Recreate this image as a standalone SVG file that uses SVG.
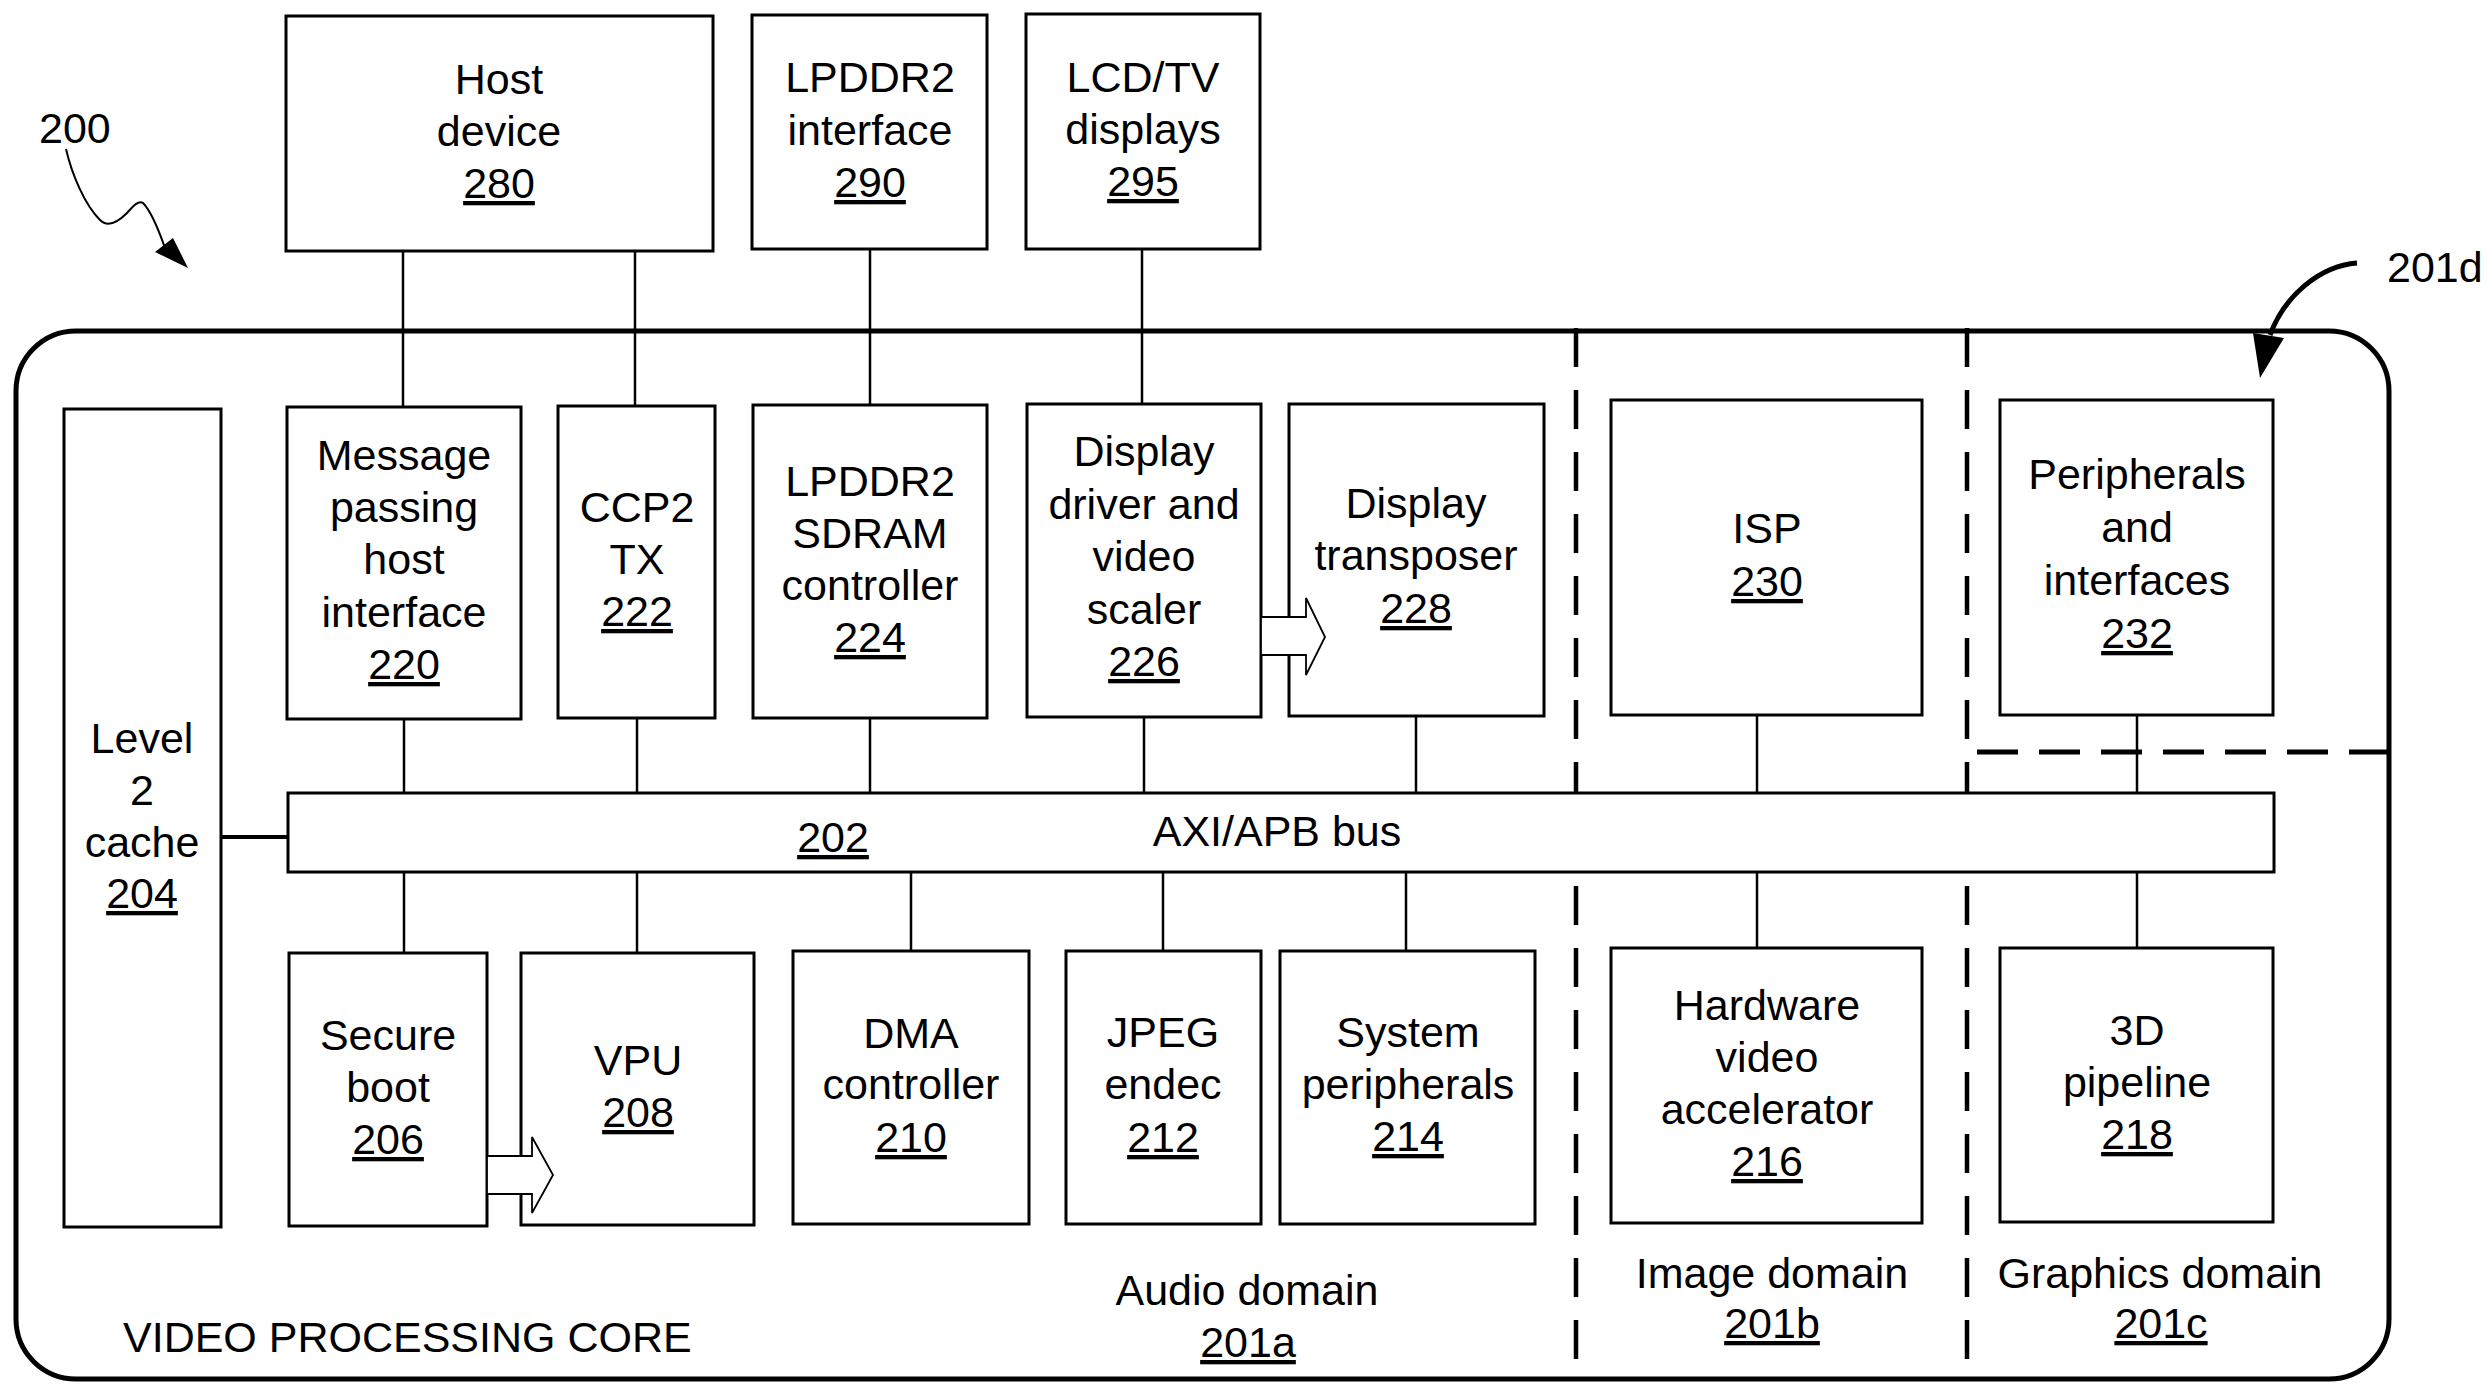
<svg xmlns="http://www.w3.org/2000/svg" width="2492" height="1400" viewBox="0 0 2492 1400">
<style>
.box{fill:#fff;stroke:#000;stroke-width:3}
.ln{stroke:#000;stroke-width:2.5;fill:none}
.dash{stroke:#000;stroke-width:4.5;fill:none;stroke-dasharray:39 23}
.blk{fill:#fff;stroke:#000;stroke-width:1.8}
text{font-family:'Liberation Sans',Arial,sans-serif;font-size:43px;text-anchor:middle;fill:#000}
.u{text-decoration:underline}
.st{text-anchor:start}
</style>
<rect width="2492" height="1400" fill="#fff"/>
<g id="core">
<rect x="16" y="331" width="2373" height="1048" rx="60" ry="60" fill="none" stroke="#000" stroke-width="5"/>
<text class="st" x="123" y="1352">VIDEO PROCESSING CORE</text>
</g>
<g id="domains">
<line class="dash" x1="1576" y1="328" x2="1576" y2="1362"/>
<line class="dash" x1="1967" y1="328" x2="1967" y2="1362"/>
<line x1="1977" y1="752" x2="2389" y2="752" stroke="#000" stroke-width="5" stroke-dasharray="41 21"/>
<text x="1247" y="1305">Audio domain</text>
<text class="u" x="1248" y="1357">201a</text>
<text x="1772" y="1288">Image domain</text>
<text class="u" x="1772" y="1338">201b</text>
<text x="2160" y="1288">Graphics domain</text>
<text class="u" x="2161" y="1338">201c</text>
</g>
<g id="connectors">
<line class="ln" x1="403" y1="251" x2="403" y2="407"/>
<line class="ln" x1="635" y1="251" x2="635" y2="406"/>
<line class="ln" x1="870" y1="249" x2="870" y2="405"/>
<line class="ln" x1="1142" y1="249" x2="1142" y2="404"/>
<line class="ln" x1="404" y1="719" x2="404" y2="793"/>
<line class="ln" x1="637" y1="718" x2="637" y2="793"/>
<line class="ln" x1="870" y1="718" x2="870" y2="793"/>
<line class="ln" x1="1144" y1="717" x2="1144" y2="793"/>
<line class="ln" x1="1416" y1="716" x2="1416" y2="793"/>
<line class="ln" x1="1757" y1="715" x2="1757" y2="793"/>
<line class="ln" x1="2137" y1="715" x2="2137" y2="793"/>
<line class="ln" x1="404" y1="872" x2="404" y2="953"/>
<line class="ln" x1="637" y1="872" x2="637" y2="953"/>
<line class="ln" x1="911" y1="872" x2="911" y2="951"/>
<line class="ln" x1="1163" y1="872" x2="1163" y2="951"/>
<line class="ln" x1="1406" y1="872" x2="1406" y2="951"/>
<line class="ln" x1="1757" y1="872" x2="1757" y2="948"/>
<line class="ln" x1="2137" y1="872" x2="2137" y2="948"/>
<line x1="221" y1="837" x2="288" y2="837" stroke="#000" stroke-width="4"/>
</g>
<g id="n280"><rect class="box" x="286" y="16" width="427" height="235"/><text x="499" y="94">Host</text><text x="499" y="146">device</text><text class="u" x="499" y="198">280</text></g>
<g id="n290"><rect class="box" x="752" y="15" width="235" height="234"/><text x="870" y="92">LPDDR2</text><text x="870" y="145">interface</text><text class="u" x="870" y="197">290</text></g>
<g id="n295"><rect class="box" x="1026" y="14" width="234" height="235"/><text x="1143" y="92">LCD/TV</text><text x="1143" y="144">displays</text><text class="u" x="1143" y="196">295</text></g>
<g id="n204"><rect class="box" x="64" y="409" width="157" height="818"/><text x="142" y="753">Level</text><text x="142" y="805">2</text><text x="142" y="857">cache</text><text class="u" x="142" y="908">204</text></g>
<g id="n220"><rect class="box" x="287" y="407" width="234" height="312"/><text x="404" y="470">Message</text><text x="404" y="522">passing</text><text x="404" y="574">host</text><text x="404" y="627">interface</text><text class="u" x="404" y="679">220</text></g>
<g id="n222"><rect class="box" x="558" y="406" width="157" height="312"/><text x="637" y="522">CCP2</text><text x="637" y="574">TX</text><text class="u" x="637" y="626">222</text></g>
<g id="n224"><rect class="box" x="753" y="405" width="234" height="313"/><text x="870" y="496">LPDDR2</text><text x="870" y="548">SDRAM</text><text x="870" y="600">controller</text><text class="u" x="870" y="652">224</text></g>
<g id="n226"><rect class="box" x="1027" y="404" width="234" height="313"/><text x="1144" y="466">Display</text><text x="1144" y="519">driver and</text><text x="1144" y="571">video</text><text x="1144" y="624">scaler</text><text class="u" x="1144" y="676">226</text></g>
<g id="n228"><rect class="box" x="1289" y="404" width="255" height="312"/><text x="1416" y="518">Display</text><text x="1416" y="570">transposer</text><text class="u" x="1416" y="623">228</text></g>
<g id="n230"><rect class="box" x="1611" y="400" width="311" height="315"/><text x="1767" y="543">ISP</text><text class="u" x="1767" y="596">230</text></g>
<g id="n232"><rect class="box" x="2000" y="400" width="273" height="315"/><text x="2137" y="489">Peripherals</text><text x="2137" y="542">and</text><text x="2137" y="595">interfaces</text><text class="u" x="2137" y="648">232</text></g>
<g id="n202"><rect class="box" x="288" y="793" width="1986" height="79"/><text class="u" x="833" y="852">202</text><text x="1277" y="846">AXI/APB bus</text></g>
<g id="n206"><rect class="box" x="289" y="953" width="198" height="273"/><text x="388" y="1050">Secure</text><text x="388" y="1102">boot</text><text class="u" x="388" y="1154">206</text></g>
<g id="n208"><rect class="box" x="521" y="953" width="233" height="272"/><text x="638" y="1075">VPU</text><text class="u" x="638" y="1127">208</text></g>
<g id="n210"><rect class="box" x="793" y="951" width="236" height="273"/><text x="911" y="1048">DMA</text><text x="911" y="1099">controller</text><text class="u" x="911" y="1152">210</text></g>
<g id="n212"><rect class="box" x="1066" y="951" width="195" height="273"/><text x="1163" y="1047">JPEG</text><text x="1163" y="1099">endec</text><text class="u" x="1163" y="1152">212</text></g>
<g id="n214"><rect class="box" x="1280" y="951" width="255" height="273"/><text x="1408" y="1047">System</text><text x="1408" y="1099">peripherals</text><text class="u" x="1408" y="1151">214</text></g>
<g id="n216"><rect class="box" x="1611" y="948" width="311" height="275"/><text x="1767" y="1020">Hardware</text><text x="1767" y="1072">video</text><text x="1767" y="1124">accelerator</text><text class="u" x="1767" y="1176">216</text></g>
<g id="n218"><rect class="box" x="2000" y="948" width="273" height="274"/><text x="2137" y="1045">3D</text><text x="2137" y="1097">pipeline</text><text class="u" x="2137" y="1149">218</text></g>
<g id="arrows">
<polygon class="blk" points="1261,617 1306,617 1306,598 1325,637 1306,675 1306,655 1261,655"/>
<polygon class="blk" points="487,1156 532,1156 532,1137 553,1175 532,1213 532,1194 487,1194"/>
</g>
<g id="ref200">
<text class="st" x="39" y="143">200</text>
<path d="M66,149 C72,175 85,205 100,220 C108,228 118,222 127,213 C134,205 139,200 143,203 C150,210 158,228 165,248" fill="none" stroke="#000" stroke-width="2"/>
<polygon points="155,252 173,238 188,268" fill="#000"/>
</g>
<g id="ref201d">
<text class="st" x="2387" y="282">201d</text>
<path d="M2357,263 C2320,266 2285,295 2270,335" fill="none" stroke="#000" stroke-width="5"/>
<polygon points="2253,333 2284,338 2260,378" fill="#000"/>
</g>
</svg>
